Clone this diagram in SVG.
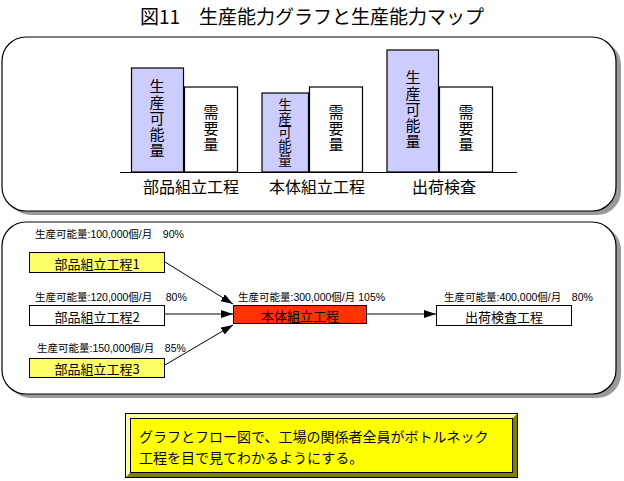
<svg xmlns="http://www.w3.org/2000/svg" width="624" height="481" viewBox="0 0 624 481">
<style>
text{font-family:"Liberation Sans","Noto Sans CJK JP",sans-serif;fill:#000}
.jp{font-family:"Noto Sans CJK JP",sans-serif}
.panel{fill:#fff;stroke:#000;stroke-width:1.2}
.shadow{fill:#999}
.bar-cap{fill:#ccccff;stroke:#000;stroke-width:1.2}
.bar-dem{fill:#fff;stroke:#000;stroke-width:1.2}
.vt{font-size:15px;letter-spacing:1px;text-anchor:middle;writing-mode:vertical-rl}
.vs{font-size:13.5px;letter-spacing:0.3px;text-anchor:middle;writing-mode:vertical-rl}
.cat{font-size:16px;text-anchor:middle}
.node{stroke:#000;stroke-width:1}
.nt{font-size:13px;text-anchor:middle;dominant-baseline:central}
.lb{font-size:10.5px}
.conn{stroke:#000;stroke-width:1;fill:none;marker-end:url(#ah)}
</style>
<defs>
<marker id="ah" viewBox="0 0 12 8" refX="12" refY="4" markerWidth="12" markerHeight="8" markerUnits="userSpaceOnUse" orient="auto">
<path d="M0,0 L12,4 L0,8 Z" fill="#000"/>
</marker>
</defs>
<text class="jp" x="312" y="24" font-size="19" text-anchor="middle">図11　生産能力グラフと生産能力マップ</text>

<g id="graph-panel">
<rect class="shadow" x="7" y="41" width="614" height="174" rx="24"/>
<rect class="panel" x="2" y="37" width="614" height="174" rx="24"/>
</g>

<g id="bar-buhin-cap">
<rect class="bar-cap" x="131.5" y="68" width="52" height="104"/>
<text class="jp vt" x="157" y="119">生産可能量</text>
</g>
<g id="bar-buhin-dem">
<rect class="bar-dem" x="184.5" y="87" width="53" height="85"/>
<text class="jp vt" x="211" y="129">需要量</text>
</g>
<g id="bar-hontai-cap">
<rect class="bar-cap" x="262" y="93" width="46.5" height="79"/>
<text class="jp vs" x="285" y="132.5">生産可能量</text>
</g>
<g id="bar-hontai-dem">
<rect class="bar-dem" x="309.5" y="87" width="53" height="85"/>
<text class="jp vt" x="336" y="129">需要量</text>
</g>
<g id="bar-shukka-cap">
<rect class="bar-cap" x="387" y="50" width="51.5" height="122"/>
<text class="jp vt" x="413" y="110">生産可能量</text>
</g>
<g id="bar-shukka-dem">
<rect class="bar-dem" x="439.5" y="87" width="53" height="85"/>
<text class="jp vt" x="466" y="129">需要量</text>
</g>
<g id="axis">
<line x1="120" y1="172.5" x2="517" y2="172.5" stroke="#000" stroke-width="1.2"/>
<text class="jp cat" x="191" y="193">部品組立工程</text>
<text class="jp cat" x="317" y="193">本体組立工程</text>
<text class="jp cat" x="444" y="193">出荷検査</text>
</g>

<g id="map-panel">
<rect class="shadow" x="7" y="226" width="614" height="172" rx="24"/>
<rect class="panel" x="2" y="222" width="614" height="172" rx="24"/>
</g>

<g id="connectors">
<line class="conn" x1="165" y1="262" x2="233" y2="304"/>
<line class="conn" x1="165" y1="314" x2="233" y2="314"/>
<line class="conn" x1="165" y1="365" x2="233" y2="325"/>
<line class="conn" x1="367" y1="314" x2="436" y2="314"/>
</g>

<g id="node-buhin1">
<text class="lb" x="35" y="238">生産可能量:100,000個/月　90%</text>
<rect class="node" x="29.5" y="252.5" width="135" height="20" fill="#ffff66"/>
<text class="jp nt" x="97" y="263">部品組立工程1</text>
</g>
<g id="node-buhin2">
<text class="lb" x="35" y="301">生産可能量:120,000個/月　 80%</text>
<rect class="node" x="29.5" y="305.5" width="135" height="20" fill="#fff"/>
<text class="jp nt" x="97" y="316">部品組立工程2</text>
</g>
<g id="node-buhin3">
<text class="lb" x="37" y="352">生産可能量:150,000個/月　85%</text>
<rect class="node" x="29.5" y="358.5" width="135" height="19" fill="#ffff66"/>
<text class="jp nt" x="97" y="368.5">部品組立工程3</text>
</g>
<g id="node-hontai">
<text class="lb" x="238" y="301">生産可能量:300,000個/月 105%</text>
<rect class="node" x="233.5" y="305.5" width="133" height="18" fill="#ff3300"/>
<text class="jp nt" x="300" y="315.5">本体組立工程</text>
</g>
<g id="node-shukka">
<text class="lb" x="444" y="301">生産可能量:400,000個/月　80%</text>
<rect class="node" x="436.5" y="305.5" width="135" height="20" fill="#fff"/>
<text class="jp nt" x="504" y="316">出荷検査工程</text>
</g>

<g id="note">
<rect x="125.5" y="413.5" width="392" height="64" fill="#ffff00" stroke="#000" stroke-width="1"/>
<polygon points="126,414 517,414 513,418 130,418 130,473 126,477" fill="#ffff99"/>
<polygon points="517,414 517,477 126,477 130,473 513,473 513,418" fill="#808000"/>
<rect x="130.5" y="418.5" width="382" height="54" fill="#ffff00" stroke="#000" stroke-width="1"/>
<rect x="125.5" y="413.5" width="392" height="64" fill="none" stroke="#000" stroke-width="1"/>
<text class="jp" x="139" y="442" font-size="14">グラフとフロー図で、工場の関係者全員がボトルネック</text>
<text class="jp" x="139" y="463" font-size="14">工程を目で見てわかるようにする。</text>
</g>
</svg>
